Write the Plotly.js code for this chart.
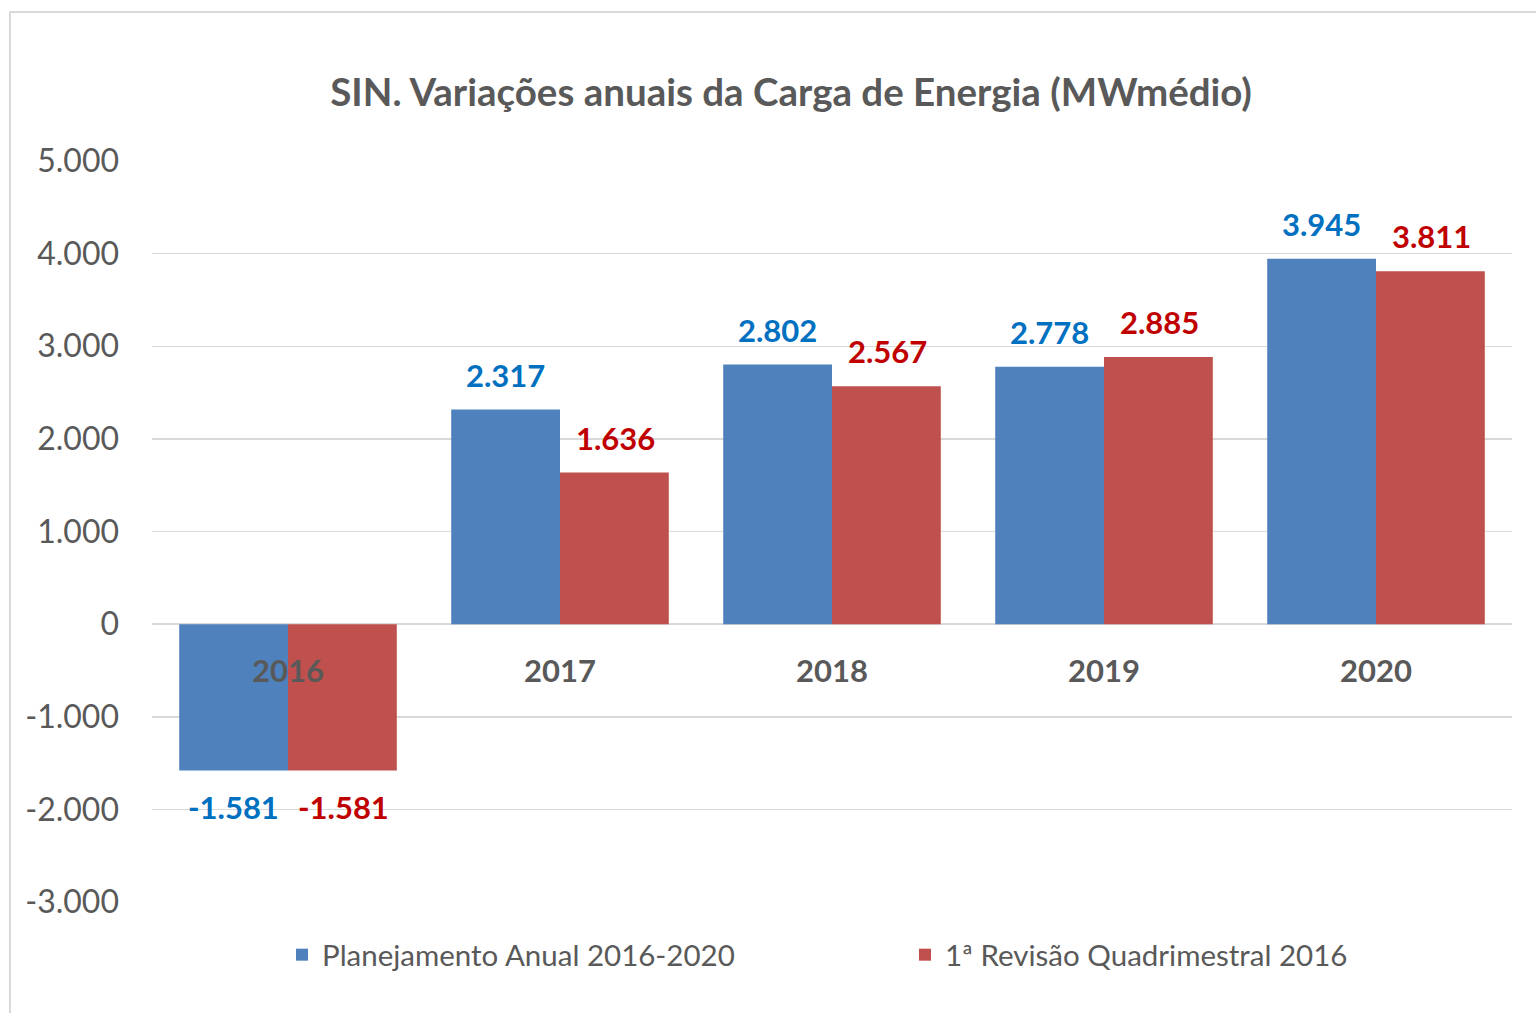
<!DOCTYPE html>
<html>
<head>
<meta charset="utf-8">
<script src="https://cdn.plot.ly/plotly-3.0.1.min.js"></script>
<style>html,body{margin:0;padding:0;background:#fff;}#chart{width:1536px;height:1013px;}</style>
</head>
<body>
<div id="chart"></div>
<script>
const categories = ['2016', '2017', '2018', '2019', '2020'];
const planejamento = [-1581, 2317, 2802, 2778, 3945];
const revisao = [-1581, 1636, 2567, 2885, 3811];
const seriesNames = ['Planejamento Anual 2016-2020', '1ª Revisão Quadrimestral 2016'];
const yTicks = [-3000, -2000, -1000, 0, 1000, 2000, 3000, 4000, 5000];

const FONT = 'Lato, "Open Sans", sans-serif';
const GREY = '#595959';
const barColors = ['#4F81BD', '#C0504D'];
const labelColors = ['#0070C0', '#C00000'];
const legendIds = ['legend', 'legend2'];

const traces = [planejamento, revisao].map((vals, i) => ({
  type: 'bar',
  name: seriesNames[i],
  x: categories,
  y: vals,
  legend: legendIds[i],
  marker: {color: barColors[i], line: {width: 0}},
  hoverinfo: 'skip'
}));

const fmt = v => v.toLocaleString('de-DE');
const annotations = [];
// category positions on a category axis are given by index (0..n-1)
[planejamento, revisao].forEach((vals, i) => {
  vals.forEach((v, j) => {
    annotations.push({
      x: j, y: v, xref: 'x', yref: 'y',
      text: fmt(v), showarrow: false,
      xshift: i === 0 ? -55 : 55,
      yshift: v >= 0 ? 35 : -36,
      yanchor: 'middle', xanchor: 'center',
      font: {family: FONT, size: 31, color: labelColors[i], weight: 'bold'}
    });
  });
});
categories.forEach((c, j) => {
  annotations.push({
    x: j, y: 0, xref: 'x', yref: 'y',
    text: c, showarrow: false,
    yshift: -46, yanchor: 'middle', xanchor: 'center',
    font: {family: FONT, size: 31, color: GREY, weight: 'bold'}
  });
});

const legendStyle = (xPix) => ({
  orientation: 'h',
  xref: 'container', x: xPix / 1536, xanchor: 'left',
  yref: 'container', y: 1 - 955 / 1013, yanchor: 'middle',
  font: {family: FONT, size: 29.5, color: GREY},
  itemclick: false, itemdoubleclick: false
});

const layout = {
  width: 1536, height: 1013,
  margin: {l: 152, r: 24, t: 161, b: 111},
  paper_bgcolor: '#ffffff', plot_bgcolor: '#ffffff',
  barmode: 'group', bargap: 0.2, bargroupgap: 0,
  showlegend: true,
  title: {
    text: 'SIN. Variações anuais da Carga de Energia (MWmédio)',
    font: {family: FONT, size: 38.5, color: GREY, weight: 'bold'},
    x: 0.515, xref: 'container', xanchor: 'center',
    y: 1 - 93 / 1013, yref: 'container', yanchor: 'middle'
  },
  xaxis: {
    type: 'category',
    range: [-0.5, categories.length - 0.5],
    showline: false, showgrid: false, zeroline: false, ticks: '',
    showticklabels: false
  },
  yaxis: {
    range: [-3000, 5000],
    tickvals: yTicks,
    ticktext: yTicks.map(fmt),
    showgrid: true, gridcolor: '#d9d9d9', gridwidth: 1.5,
    zeroline: true, zerolinecolor: '#d9d9d9', zerolinewidth: 1.5,
    showline: false, ticks: '',
    ticklabelstandoff: 32,
    tickfont: {family: FONT, size: 32, color: GREY}
  },
  legend: legendStyle(282),
  legend2: legendStyle(905),
  annotations: annotations,
  shapes: [{
    type: 'rect', xref: 'paper', yref: 'paper',
    x0: (10 - 152) / 1360, x1: 1.5,
    y0: -1, y1: (902 - 12) / 741,
    line: {color: '#d9d9d9', width: 2}, fillcolor: 'rgba(0,0,0,0)', layer: 'below'
  }]
};

Plotly.newPlot('chart', traces, layout, {staticPlot: true, displayModeBar: false});
</script>
</body>
</html>
